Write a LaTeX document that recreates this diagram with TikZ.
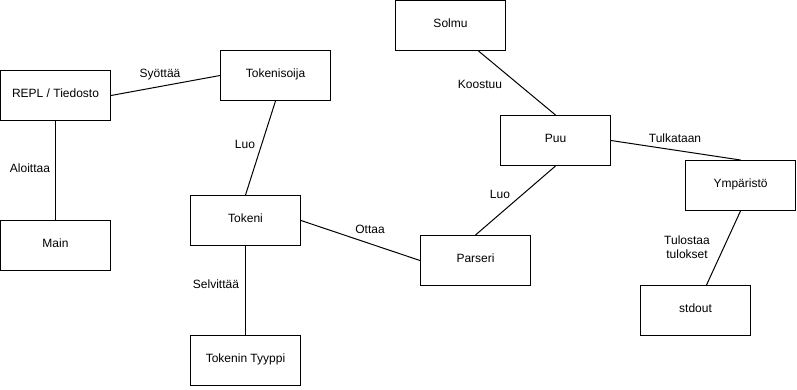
\documentclass[tikz,border=0pt]{standalone}
\usepackage{fontspec}
\setmainfont{Liberation Sans}
\usetikzlibrary{calc}
\begin{document}
\begin{tikzpicture}[x=1pt,y=-1pt,
  box/.style={draw=black, line width=1pt, fill=white, minimum width=110pt, minimum height=50pt,
    inner sep=0pt, text height=8.6pt, text depth=4pt, font=\fontsize{12}{14}\selectfont},
  link/.style={draw=black, line width=1pt},
  lbl/.style={inner sep=0pt, text height=8.6pt, text depth=0pt, font=\fontsize{12}{14}\selectfont},
  lbl2/.style={inner sep=0pt, align=center, font=\fontsize{12}{14}\selectfont}]
\useasboundingbox (0,0) rectangle (797,389);

% components
\node[box] (repl)      at (55.5,95.5)  {REPL / Tiedosto};
\node[box] (main)      at (55.5,245.5) {Main};
\node[box] (tokenis)   at (275.5,75.5) {Tokenisoija};
\node[box] (tokeni)    at (245.5,220.5) {Tokeni};
\node[box] (tyyppi)    at (245.5,360.5) {Tokenin Tyyppi};
\node[box] (solmu)     at (450.5,25.5) {Solmu};
\node[box] (puu)       at (555.5,140.5) {Puu};
\node[box] (parseri)   at (475.5,260.5) {Parseri};
\node[box] (ymparisto) at (740.5,185.5) {Ympäristö};
\node[box] (stdout)    at (695.5,310.5) {stdout};

% relations
\draw[link] (repl.east) -- (tokenis.west);
\draw[link] (repl.south) -- (main.north);
\draw[link] (tokenis.south) -- (tokeni.north);
\draw[link] (tokeni.east) -- (parseri.west);
\draw[link] (tokeni.south) -- (tyyppi.north);
\draw[link] ($(solmu.south)+(28,0)$) -- (puu.north);
\draw[link] (puu.south) -- (parseri.north);
\draw[link] (puu.east) -- (ymparisto.north);
\draw[link] (ymparisto.south) -- ($(stdout.north)+(11,0)$);

% relation labels
\node[lbl] (l1) at (160,73)  {Syöttää};
\node[lbl] (l2) at (30,168)  {Aloittaa};
\node[lbl] (l3) at (245,144) {Luo};
\node[lbl] (l4) at (370,229) {Ottaa};
\node[lbl] (l5) at (216,284) {Selvittää};
\node[lbl] (l6) at (480,84)  {Koostuu};
\node[lbl] (l7) at (500,194) {Luo};
\node[lbl] (l8) at (675,138) {Tulkataan};
\node[lbl2] (l9) at (687,247) {Tulostaa\\tulokset};
\end{tikzpicture}
\end{document}
